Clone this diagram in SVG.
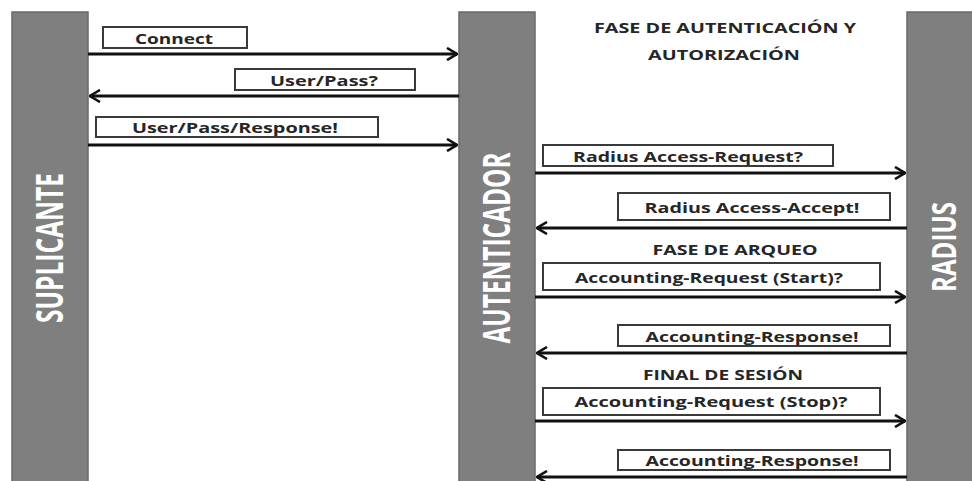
<svg xmlns="http://www.w3.org/2000/svg" width="972" height="481" viewBox="0 0 972 481">
<style>
.bar{fill:#7f7f7f;stroke:#6a6a6a;stroke-width:1.5}
.vlab{font-family:"Open Sans","DejaVu Sans",sans-serif;font-weight:bold;font-size:38px;fill:#ffffff;text-anchor:middle}
.box{fill:#ffffff;stroke:#3a3a3a;stroke-width:2}
.lab{font-family:"Open Sans","DejaVu Sans",sans-serif;font-weight:bold;font-size:14px;fill:#262626;text-anchor:middle}
.hdr{font-family:"Open Sans","DejaVu Sans",sans-serif;font-weight:bold;font-size:14.5px;fill:#262626;text-anchor:middle}
.arr{stroke:#111;stroke-width:3;fill:none}
</style>
<defs>
<marker id="ah" viewBox="0 0 12 14" refX="11" refY="7" markerWidth="12" markerHeight="14" markerUnits="userSpaceOnUse" orient="auto">
<path d="M1,1 L11,7 L1,13" fill="none" stroke="#111" stroke-width="2.6"/>
</marker>
</defs>
<rect width="972" height="481" fill="#ffffff"/>
<g id="suplicante">
<rect class="bar" x="12" y="12" width="76" height="475"/>
<text class="vlab" transform="translate(63,248) rotate(-90)" textLength="150" lengthAdjust="spacingAndGlyphs">SUPLICANTE</text>
</g>
<g id="autenticador">
<rect class="bar" x="459" y="12" width="76" height="475"/>
<text class="vlab" transform="translate(510,248) rotate(-90)" textLength="191" lengthAdjust="spacingAndGlyphs">AUTENTICADOR</text>
</g>
<g id="radius">
<rect class="bar" x="907" y="12" width="70" height="475"/>
<text class="vlab" transform="translate(956,247) rotate(-90)" textLength="90" lengthAdjust="spacingAndGlyphs" style="font-size:34px">RADIUS</text>
</g>
<g id="headers">
<text class="hdr" x="725" y="33" textLength="262" lengthAdjust="spacingAndGlyphs">FASE DE AUTENTICACIÓN Y</text>
<text class="hdr" x="724" y="60" textLength="152" lengthAdjust="spacingAndGlyphs">AUTORIZACIÓN</text>
<text class="hdr" x="735" y="255" textLength="165" lengthAdjust="spacingAndGlyphs">FASE DE ARQUEO</text>
<text class="hdr" x="723" y="380" textLength="160" lengthAdjust="spacingAndGlyphs">FINAL DE SESIÓN</text>
</g>
<g id="connectors">
<line class="arr" x1="88" y1="54" x2="457" y2="54" marker-end="url(#ah)"/>
<line class="arr" x1="459" y1="96" x2="90" y2="96" marker-end="url(#ah)"/>
<line class="arr" x1="88" y1="145" x2="457" y2="145" marker-end="url(#ah)"/>
<line class="arr" x1="535" y1="173" x2="905" y2="173" marker-end="url(#ah)"/>
<line class="arr" x1="907" y1="228" x2="537" y2="228" marker-end="url(#ah)"/>
<line class="arr" x1="535" y1="297" x2="905" y2="297" marker-end="url(#ah)"/>
<line class="arr" x1="907" y1="353" x2="537" y2="353" marker-end="url(#ah)"/>
<line class="arr" x1="535" y1="421" x2="905" y2="421" marker-end="url(#ah)"/>
<line class="arr" x1="907" y1="477" x2="537" y2="477" marker-end="url(#ah)"/>
</g>
<g id="msg-connect">
<rect class="box" x="103" y="27" width="144" height="21"/>
<text class="lab" x="174" y="44" textLength="78" lengthAdjust="spacingAndGlyphs">Connect</text>
</g>
<g id="msg-userpass">
<rect class="box" x="235" y="69" width="180" height="21"/>
<text class="lab" x="324" y="86" textLength="108" lengthAdjust="spacingAndGlyphs">User/Pass?</text>
</g>
<g id="msg-userpassresp">
<rect class="box" x="96" y="117" width="282" height="20"/>
<text class="lab" x="235" y="133" textLength="206" lengthAdjust="spacingAndGlyphs">User/Pass/Response!</text>
</g>
<g id="msg-access-request">
<rect class="box" x="543" y="145" width="290" height="21"/>
<text class="lab" x="688" y="162" textLength="230" lengthAdjust="spacingAndGlyphs">Radius Access-Request?</text>
</g>
<g id="msg-access-accept">
<rect class="box" x="618" y="193" width="272" height="27"/>
<text class="lab" x="752" y="213" textLength="215" lengthAdjust="spacingAndGlyphs">Radius Access-Accept!</text>
</g>
<g id="msg-acct-start">
<rect class="box" x="543" y="263" width="337" height="27"/>
<text class="lab" x="709" y="283" textLength="268" lengthAdjust="spacingAndGlyphs">Accounting-Request (Start)?</text>
</g>
<g id="msg-acct-resp1">
<rect class="box" x="618" y="325" width="272" height="21"/>
<text class="lab" x="752" y="342" textLength="213" lengthAdjust="spacingAndGlyphs">Accounting-Response!</text>
</g>
<g id="msg-acct-stop">
<rect class="box" x="543" y="388" width="337" height="27"/>
<text class="lab" x="711" y="407" textLength="273" lengthAdjust="spacingAndGlyphs">Accounting-Request (Stop)?</text>
</g>
<g id="msg-acct-resp2">
<rect class="box" x="618" y="450" width="272" height="20"/>
<text class="lab" x="752" y="466" textLength="213" lengthAdjust="spacingAndGlyphs">Accounting-Response!</text>
</g>
</svg>
